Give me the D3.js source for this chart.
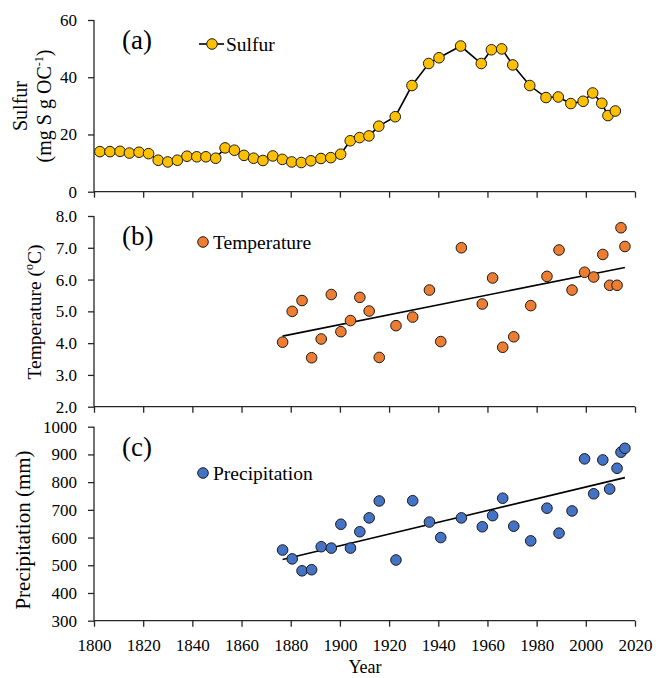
<!DOCTYPE html>
<html><head><meta charset="utf-8">
<script src="https://cdn.jsdelivr.net/npm/d3@7"></script>
<style>body{margin:0;background:#fff}svg{display:block}svg text{font-family:"Liberation Serif","Times New Roman",Tinos,"DejaVu Serif","Noto Serif",serif}</style>
</head><body><svg id="c" width="656" height="678"></svg>
<script>
const xTicks = [1800,1820,1840,1860,1880,1900,1920,1940,1960,1980,2000,2020];
const sulfurYears = [1802.4,1806.5,1810.6,1814.4,1818.3,1822.2,1826.1,1830.0,1833.9,1837.8,1841.8,1845.5,1849.5,1853.3,1857.1,1861.0,1864.9,1868.7,1872.7,1876.6,1880.4,1884.3,1888.2,1892.3,1896.3,1900.3,1904.2,1908.0,1911.8,1915.8,1922.5,1929.3,1936.1,1940.3,1949.1,1957.5,1961.6,1965.8,1970.3,1977.2,1983.8,1988.8,1993.9,1998.9,2002.8,2006.5,2009.0,2012.0];
const sulfurValues = [14.0,14.0,14.1,13.5,13.8,13.3,11.0,10.4,11.0,12.4,12.2,12.2,11.7,15.3,14.5,12.7,11.7,10.9,12.5,11.3,10.4,10.2,10.8,11.6,11.9,13.1,17.8,18.9,19.5,22.9,26.2,37.1,44.8,46.8,50.9,44.8,49.6,49.9,44.3,37.1,32.9,33.1,30.8,31.6,34.5,30.9,26.6,28.2];
const climYears = [1876.7,1880.6,1884.6,1888.5,1892.4,1896.5,1900.4,1904.3,1908.1,1911.9,1916.0,1922.8,1929.6,1936.4,1941.0,1949.4,1957.9,1962.1,1966.2,1970.7,1977.6,1984.2,1989.1,1994.4,1999.5,2003.2,2006.9,2009.7,2012.7,2014.3,2015.9];
const tempValues = [4.03,5.00,5.34,3.54,4.13,5.53,4.36,4.71,5.44,5.01,3.55,4.55,4.82,5.67,4.05,7.00,5.23,6.05,3.87,4.20,5.18,6.10,6.93,5.67,6.23,6.08,6.79,5.82,5.82,7.63,7.04];
const precipValues = [555,523,480,484,567,562,648,562,621,671,732,519,733,656,600,671,639,679,742,641,588,706,616,696,884,758,880,775,850,908,922];
const sulfurTicks = [0,20,40,60];
const tempTicks = [2,3,4,5,6,7,8];
const precipTicks = [300,400,500,600,700,800,900,1000];

const svg = d3.select("#c");
const x = d3.scaleLinear().domain([1800,2020]).range([94,635]);
const axisCol = "#262626";
const tickFont = 17;

function linreg(xs, ys){
  const n=xs.length, mx=d3.mean(xs), my=d3.mean(ys);
  let sxy=0,sxx=0; for(let i=0;i<n;i++){sxy+=(xs[i]-mx)*(ys[i]-my);sxx+=(xs[i]-mx)**2;}
  const b=sxy/sxx; return [b, my-b*mx];
}

function panel(cfg){
  const y = d3.scaleLinear().domain(cfg.domain).range([cfg.bottom, cfg.top]);
  const g = svg.append("g");
  const xa = g.append("g").attr("transform",`translate(0,${cfg.bottom})`)
    .call(d3.axisBottom(x).tickValues(xTicks).tickSize(6).tickFormat(cfg.showX ? d3.format("d") : ""));
  xa.attr("font-family",null);
  xa.select(".domain").attr("stroke",axisCol).attr("stroke-width",1.3).attr("d",`M94,0H635`);
  xa.selectAll(".tick line").attr("stroke",axisCol).attr("stroke-width",1.3);
  xa.selectAll("text").attr("font-size",tickFont).attr("fill","#000").attr("dy","1.25em");
  const ya = g.append("g").attr("transform","translate(94,0)")
    .call(d3.axisLeft(y).tickValues(cfg.ticks).tickSize(6).tickPadding(11).tickFormat(cfg.fmt));
  ya.attr("font-family",null);
  ya.select(".domain").attr("stroke",axisCol).attr("stroke-width",1.3).attr("d",`M0,${cfg.bottom}V${cfg.top}`);
  ya.selectAll(".tick line").attr("stroke",axisCol).attr("stroke-width",1.3);
  ya.selectAll("text").attr("font-size",tickFont).attr("fill","#000");
  g.append("text").attr("x",122).attr("y",cfg.top+29).attr("font-size",27).text(cfg.label);
  return {g,y};
}

// Panel (a)
{
  const {g,y} = panel({domain:[0,60],top:20,bottom:191.7,ticks:sulfurTicks,fmt:d3.format("d"),label:"(a)",showX:false});
  const pts = sulfurYears.map((d,i)=>[d,sulfurValues[i]]);
  g.append("path").datum(pts).attr("fill","none").attr("stroke","#000").attr("stroke-width",1.6)
    .attr("d",d3.line().x(d=>x(d[0])).y(d=>y(d[1])));
  g.selectAll("circle.s").data(pts).join("circle").attr("cx",d=>x(d[0])).attr("cy",d=>y(d[1])).attr("r",5.3)
    .attr("fill","#FFC000").attr("stroke","#1a1a1a").attr("stroke-width",1);
  g.append("line").attr("x1",199).attr("x2",224).attr("y1",44).attr("y2",44).attr("stroke","#000").attr("stroke-width",1.6);
  g.append("circle").attr("cx",212).attr("cy",44).attr("r",5.3).attr("fill","#FFC000").attr("stroke","#1a1a1a");
  g.append("text").attr("x",226).attr("y",51).attr("font-size",19.5).text("Sulfur");
  g.append("text").attr("transform","translate(27,106) rotate(-90)").attr("text-anchor","middle").attr("font-size",20).text("Sulfur");
  const t2 = g.append("text").attr("transform","translate(51,106) rotate(-90)").attr("text-anchor","middle").attr("font-size",20);
  t2.append("tspan").text("(mg S g OC");
  t2.append("tspan").attr("font-size",12).attr("dy",-8).text("-1");
  t2.append("tspan").attr("dy",8).text(")");
}

// Panel (b)
{
  const {g,y} = panel({domain:[2,8],top:216,bottom:406.7,ticks:tempTicks,fmt:d3.format(".1f"),label:"(b)",showX:false});
  const pts = climYears.map((d,i)=>[d,tempValues[i]]);
  const [b,a] = linreg(climYears,tempValues);
  const ex = d3.extent(climYears);
  g.append("line").attr("x1",x(ex[0])).attr("x2",x(ex[1])).attr("y1",y(a+b*ex[0])).attr("y2",y(a+b*ex[1]))
    .attr("stroke","#000").attr("stroke-width",1.6);
  g.selectAll("circle.t").data(pts).join("circle").attr("cx",d=>x(d[0])).attr("cy",d=>y(d[1])).attr("r",5.3)
    .attr("fill","#ED7D31").attr("stroke","#1a1a1a").attr("stroke-width",1);
  g.append("circle").attr("cx",203).attr("cy",242).attr("r",5.3).attr("fill","#ED7D31").attr("stroke","#1a1a1a");
  g.append("text").attr("x",213).attr("y",249).attr("font-size",19.5).text("Temperature");
  const t = g.append("text").attr("transform","translate(41,312) rotate(-90)").attr("text-anchor","middle").attr("font-size",19.5);
  t.append("tspan").text("Temperature (");
  t.append("tspan").attr("font-size",12).attr("dy",-8).text("o");
  t.append("tspan").attr("dy",8).text("C)");
}

// Panel (c)
{
  const {g,y} = panel({domain:[300,1000],top:426.7,bottom:620.7,ticks:precipTicks,fmt:d3.format("d"),label:"(c)",showX:true});
  const pts = climYears.map((d,i)=>[d,precipValues[i]]);
  const [b,a] = linreg(climYears,precipValues);
  const ex = d3.extent(climYears);
  g.append("line").attr("x1",x(ex[0])).attr("x2",x(ex[1])).attr("y1",y(a+b*ex[0])).attr("y2",y(a+b*ex[1]))
    .attr("stroke","#000").attr("stroke-width",1.6);
  g.selectAll("circle.p").data(pts).join("circle").attr("cx",d=>x(d[0])).attr("cy",d=>y(d[1])).attr("r",5.3)
    .attr("fill","#4472C4").attr("stroke","#1a1a1a").attr("stroke-width",1);
  g.append("circle").attr("cx",203).attr("cy",473).attr("r",5.3).attr("fill","#4472C4").attr("stroke","#1a1a1a");
  g.append("text").attr("x",213).attr("y",480).attr("font-size",19.5).text("Precipitation");
  g.append("text").attr("transform","translate(30,530) rotate(-90)").attr("text-anchor","middle").attr("font-size",21)
    .text("Precipitation (mm)");
  g.append("text").attr("x",365).attr("y",673).attr("text-anchor","middle").attr("font-size",18).text("Year");
}
</script></body></html>
